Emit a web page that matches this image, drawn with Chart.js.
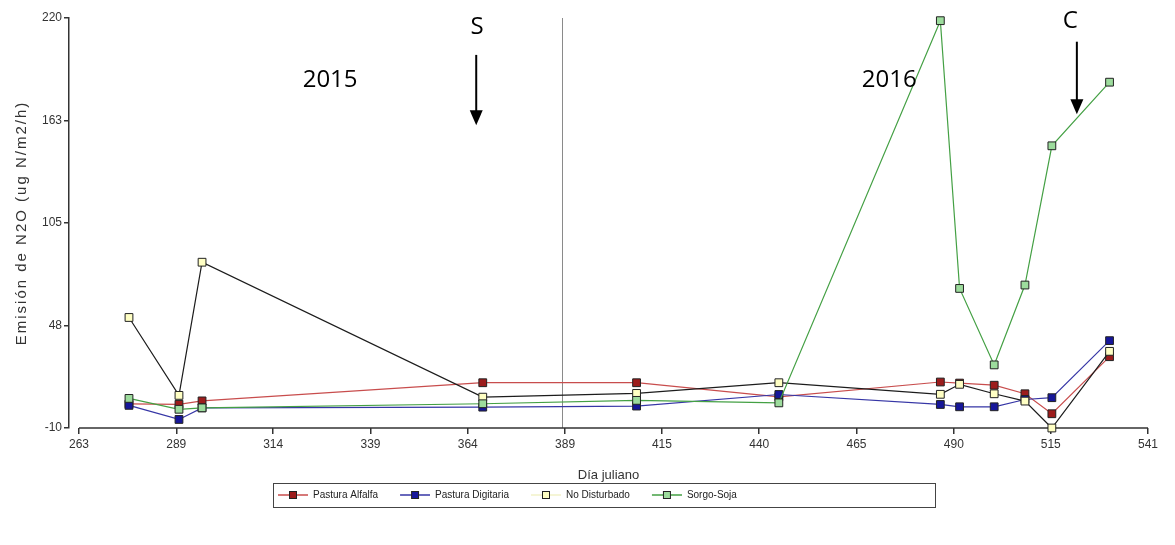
<!DOCTYPE html>
<html>
<head>
<meta charset="utf-8">
<script src="https://cdn.jsdelivr.net/npm/chart.js@4.4.1/dist/chart.umd.min.js"></script>
<style>
  html, body { margin: 0; padding: 0; background: #fff; }
  #wrap { width: 1175px; height: 545px; position: relative; }
</style>
</head>
<body>
<div id="wrap"><canvas id="myChart"></canvas></div>
<script>
// sampling days (julian) and N2O emission per treatment
const days = [276, 289, 295, 368, 408, 445, 487, 492, 501, 509, 516, 531];
const alfalfa = [3.5, 3.3, 5.2, 15.4, 15.4, 7.5, 15.8, 15.2, 14, 9.2, -2, 30];
const digitaria = [2.7, -5.2, 1.3, 1.7, 2.3, 8.8, 3.2, 1.9, 1.9, 6, 7, 39];
const noDisturbado = [52, 8.3, 83, 7.3, 9.4, 15.4, 8.9, 14.5, 9.2, 5.1, -10, 33];
const sorgoSoja = [6.6, 0.5, 1.3, 3.6, 5.5, 4.1, 218.5, 68.3, 25.4, 70.2, 148.3, 184];

const xTickValues = [263, 288.3, 313.5, 338.8, 364.1, 389.4, 414.6, 439.9, 465.2, 490.5, 515.7, 541];
const xTickLabels = ['263', '289', '314', '339', '364', '389', '415', '440', '465', '490', '515', '541'];
const yTickValues = [-10, 47.5, 105, 162.5, 220];
const yTickLabels = ['-10', '48', '105', '163', '220'];

const yearLineDay = 388.6;
const notes = [
  { text: '2015', x: 328.3, y: 185.3 },
  { text: 'S', x: 366.5, y: 215 },
  { text: '2016', x: 473.7, y: 185.3 },
  { text: 'C', x: 520.8, y: 218 }
];
const arrows = [
  { x: 366.3, from: 199.3, to: 159.9 },
  { x: 522.5, from: 206.7, to: 166 }
];

// legend frame (pixels)
const legendStart = 263;
const legendFrameLeft = 273;
const legendFrameRight = 935;

const axisFont = "'Liberation Sans', Arial, sans-serif";

function points(values) {
  return days.map((d, i) => ({ x: d, y: values[i] }));
}

// legend symbol: blank lead-in, then line with the square marker on it
function legendIcon(line, fill) {
  const c = document.createElement('canvas');
  c.width = 45;
  c.height = 10;
  const g = c.getContext('2d');
  g.strokeStyle = line;
  g.lineWidth = 1.5;
  g.beginPath();
  g.moveTo(15, 5);
  g.lineTo(45, 5);
  g.stroke();
  g.fillStyle = fill;
  g.fillRect(26, 1, 8, 8);
  g.strokeStyle = '#222';
  g.lineWidth = 1;
  g.strokeRect(26.5, 1.5, 7, 7);
  return c;
}

function series(label, values, line, fill, legendLine, order) {
  return {
    label: label,
    data: points(values),
    borderColor: line,
    borderWidth: 1.2,
    pointStyle: 'rect',
    pointRadius: 5.5,
    pointBackgroundColor: fill,
    pointBorderColor: '#222',
    pointBorderWidth: 1,
    tension: 0,
    clip: 8,
    order: order,
    icon: legendIcon(legendLine, fill)
  };
}

const extras = {
  id: 'extras',
  afterLayout(chart) {
    chart.legend.left = legendStart - chart.legend.options.labels.padding;
  },
  beforeDatasetsDraw(chart) {
    const { ctx, chartArea, scales: { x } } = chart;
    ctx.save();
    const xp = Math.round(x.getPixelForValue(yearLineDay)) + 0.5;
    ctx.strokeStyle = '#8a8a8a';
    ctx.lineWidth = 1;
    ctx.beginPath();
    ctx.moveTo(xp, chartArea.top);
    ctx.lineTo(xp, chartArea.bottom);
    ctx.stroke();

    ctx.strokeStyle = '#333';
    ctx.lineWidth = 1.5;
    ctx.beginPath();
    ctx.moveTo(x.getPixelForValue(xTickValues[0]), chartArea.bottom);
    ctx.lineTo(x.getPixelForValue(xTickValues[xTickValues.length - 1]), chartArea.bottom);
    ctx.stroke();
    ctx.restore();
  },
  afterDraw(chart) {
    const { ctx, chartArea, scales: { x, y } } = chart;
    ctx.save();
    ctx.fillStyle = '#000';
    ctx.font = "24px 'Open Sans', sans-serif";
    ctx.textAlign = 'center';
    ctx.textBaseline = 'middle';
    notes.forEach(n => ctx.fillText(n.text, x.getPixelForValue(n.x), y.getPixelForValue(n.y)));

    ctx.strokeStyle = '#000';
    ctx.lineWidth = 2;
    arrows.forEach(a => {
      const xp = x.getPixelForValue(a.x);
      const y1 = y.getPixelForValue(a.from);
      const y2 = y.getPixelForValue(a.to);
      ctx.beginPath();
      ctx.moveTo(xp, y1);
      ctx.lineTo(xp, y2 - 12);
      ctx.stroke();
      ctx.beginPath();
      ctx.moveTo(xp - 6.5, y2 - 15);
      ctx.lineTo(xp + 6.5, y2 - 15);
      ctx.lineTo(xp, y2);
      ctx.closePath();
      ctx.fill();
    });

    // y axis title
    ctx.save();
    ctx.translate(22, (chartArea.top + chartArea.bottom) / 2);
    ctx.rotate(-Math.PI / 2);
    ctx.font = "15px 'Liberation Sans', sans-serif";
    ctx.letterSpacing = '2px';
    ctx.fillStyle = '#333';
    ctx.fillText('Emisión de N2O (ug N/m2/h)', 0, 0);
    ctx.restore();

    // frame around legend
    const boxes = chart.legend.legendHitBoxes;
    if (boxes && boxes.length) {
      const top = boxes[0].top - 7;
      const bottom = boxes[0].top + boxes[0].height + 7;
      ctx.strokeStyle = '#444';
      ctx.lineWidth = 1;
      ctx.strokeRect(legendFrameLeft + 0.5, Math.round(top) + 0.5, legendFrameRight - legendFrameLeft, Math.round(bottom - top));
    }
    ctx.restore();
  }
};

const ctx = document.getElementById('myChart');
const chart = new Chart(ctx, {
  type: 'line',
  data: {
    datasets: [
      series('Pastura Alfalfa', alfalfa, '#c84d4d', '#9c1c1c', '#c84d4d', 3),
      series('Pastura Digitaria', digitaria, '#3636a6', '#16169a', '#3636a6', 2),
      series('No Disturbado', noDisturbado, '#1c1c1c', '#ffffc4', '#f2f2c8', 1),
      series('Sorgo-Soja', sorgoSoja, '#44a044', '#9ddc9d', '#44a044', 0)
    ]
  },
  options: {
    responsive: true,
    maintainAspectRatio: false,
    animation: false,
    layout: { padding: { top: 18, right: 27, bottom: 35, left: 0 } },
    scales: {
      x: {
        type: 'linear',
        min: 260.4,
        max: 541,
        afterBuildTicks: s => { s.ticks = xTickValues.map(v => ({ value: v })); },
        afterFit: s => { s.height = 55; },
        ticks: {
          autoSkip: false,
          maxRotation: 0,
          color: '#333',
          padding: 3,
          font: { family: axisFont, size: 12 },
          callback: (v, i) => xTickLabels[i]
        },
        grid: { drawOnChartArea: false, tickLength: 6, color: '#333', lineWidth: 1.5 },
        border: { display: false },
        title: {
          display: true,
          text: 'Día juliano',
          color: '#333',
          font: { family: axisFont, size: 13 },
          padding: { top: 4, bottom: 0 }
        }
      },
      y: {
        min: -10,
        max: 220,
        afterBuildTicks: s => { s.ticks = yTickValues.map(v => ({ value: v })); },
        afterFit: s => { s.width = 69; },
        ticks: {
          color: '#333',
          padding: 2,
          font: { family: axisFont, size: 12 },
          callback: (v, i) => yTickLabels[i]
        },
        grid: { drawOnChartArea: false, tickLength: 5, color: '#333', lineWidth: 1.5 },
        border: { display: true, color: '#333', width: 1.5 }
      }
    },
    plugins: {
      legend: {
        position: 'bottom',
        align: 'start',
        fullSize: false,
        labels: {
          usePointStyle: true,
          pointStyleWidth: 45,
          padding: 7,
          color: '#222',
          font: { family: axisFont, size: 10 },
          generateLabels: c => c.data.datasets.map((ds, i) => ({
            text: ds.label,
            pointStyle: ds.icon,
            fillStyle: 'transparent',
            strokeStyle: 'transparent',
            lineWidth: 0,
            fontColor: '#222',
            hidden: false,
            datasetIndex: i
          }))
        }
      },
      tooltip: { enabled: false }
    }
  },
  plugins: [extras]
});
</script>
</body>
</html>
